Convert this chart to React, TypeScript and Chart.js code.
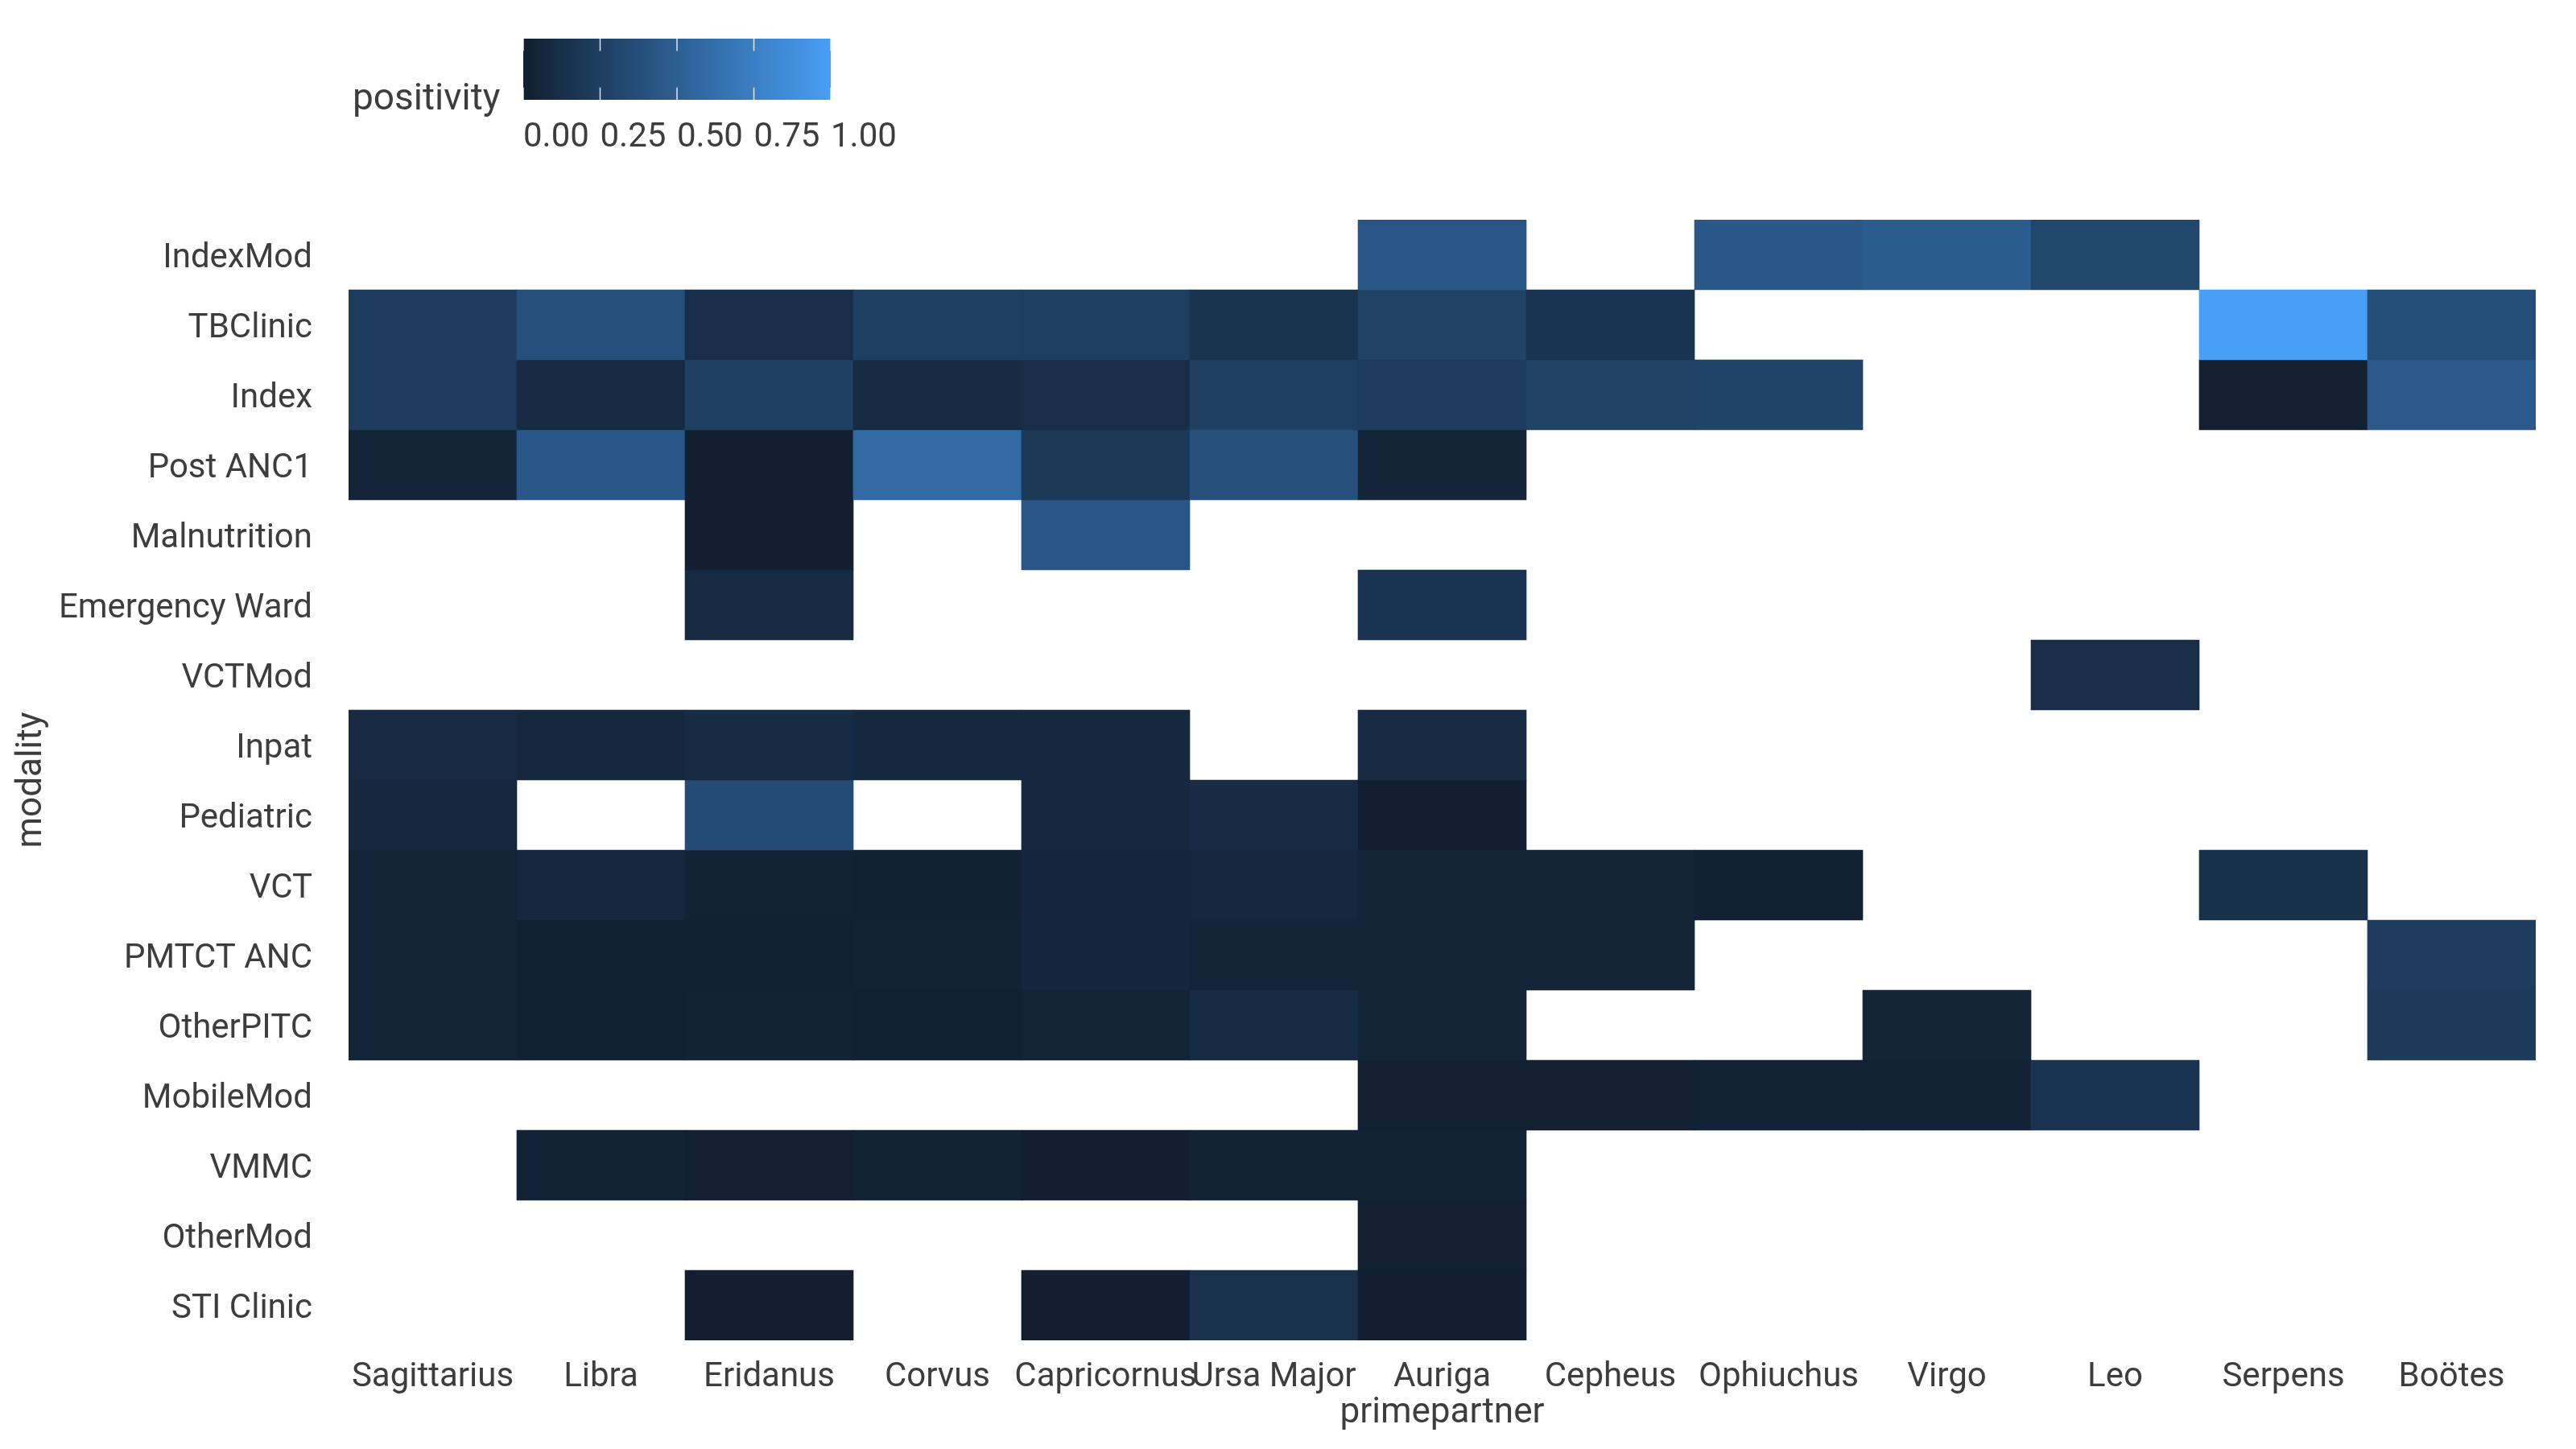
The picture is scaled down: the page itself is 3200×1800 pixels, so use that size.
import React, { useEffect, useRef } from "react";
import { Chart, registerables } from "chart.js";

Chart.register(...registerables);

const partners = [
  "Sagittarius", "Libra", "Eridanus", "Corvus", "Capricornus", "Ursa Major",
  "Auriga", "Cepheus", "Ophiuchus", "Virgo", "Leo", "Serpens", "Boötes",
];
const modalities = [
  "IndexMod", "TBClinic", "Index", "Post ANC1", "Malnutrition", "Emergency Ward",
  "VCTMod", "Inpat", "Pediatric", "VCT", "PMTCT ANC", "OtherPITC", "MobileMod",
  "VMMC", "OtherMod", "STI Clinic",
];
const legendTicks = [0, 0.25, 0.5, 0.75, 1];
const legendTickLabels = ["0.00", "0.25", "0.50", "0.75", "1.00"];

// positivity by modality, in the order of `partners`; null = no data
const _ = null;
const indexMod = [_, _, _, _, _, _, 0.43, _, 0.45, 0.48, 0.31, _, _];
const tbClinic = [0.23, 0.38, 0.12, 0.25, 0.24, 0.15, 0.27, 0.16, _, _, _, 1.0, 0.37];
const index = [0.23, 0.09, 0.26, 0.09, 0.12, 0.25, 0.23, 0.27, 0.29, _, _, 0.01, 0.46];
const postANC1 = [0.04, 0.44, 0.0, 0.58, 0.2, 0.38, 0.05, _, _, _, _, _, _];
const malnutrition = [_, _, 0.0, _, 0.43, _, _, _, _, _, _, _, _];
const emergencyWard = [_, _, 0.09, _, _, _, 0.16, _, _, _, _, _, _];
const vctMod = [_, _, _, _, _, _, _, _, _, _, 0.12, _, _];
const inpat = [0.09, 0.07, 0.11, 0.07, 0.07, _, 0.08, _, _, _, _, _, _];
const pediatric = [0.07, _, 0.34, _, 0.07, 0.1, 0.0, _, _, _, _, _, _];
const vct = [0.04, 0.07, 0.03, 0.02, 0.06, 0.07, 0.05, 0.05, 0.02, _, _, 0.13, _];
const pmtctANC = [0.04, 0.02, 0.02, 0.03, 0.06, 0.04, 0.05, 0.05, _, _, _, _, 0.23];
const otherPITC = [0.04, 0.02, 0.03, 0.02, 0.04, 0.09, 0.05, _, _, 0.05, _, _, 0.22];
const mobileMod = [_, _, _, _, _, _, 0.01, 0.01, 0.03, 0.03, 0.16, _, _];
const vmmc = [_, 0.03, 0.01, 0.03, 0.0, 0.03, 0.03, _, _, _, _, _, _];
const otherMod = [_, _, _, _, _, _, 0.01, _, _, _, _, _, _];
const stiClinic = [_, _, 0.0, _, 0.0, 0.14, 0.0, _, _, _, _, _, _];

const rows = [
  indexMod, tbClinic, index, postANC1, malnutrition, emergencyWard, vctMod,
  inpat, pediatric, vct, pmtctANC, otherPITC, mobileMod, vmmc, otherMod, stiClinic,
];

const LOW = [17, 31, 48];
const HIGH = [72, 159, 245];
const TEXT = "#3d3d3d";
const FONT = "Roboto";

function colorFor(v: number): string {
  const c = LOW.map((l, i) => Math.round(l + (HIGH[i] - l) * v));
  return `rgb(${c[0]},${c[1]},${c[2]})`;
}

const colorbarPlugin = {
  id: "colorbar",
  afterDraw(chart: any) {
    const ctx = chart.ctx as CanvasRenderingContext2D;
    const x0 = 650, x1 = 1032, y0 = 48, y1 = 124;
    ctx.save();
    const grad = ctx.createLinearGradient(x0, 0, x1, 0);
    for (let i = 0; i <= 10; i++) grad.addColorStop(i / 10, colorFor(i / 10));
    ctx.fillStyle = grad;
    ctx.fillRect(x0, y0, x1 - x0, y1 - y0);
    ctx.strokeStyle = "rgba(255,255,255,0.85)";
    ctx.lineWidth = 1.5;
    const h = (y1 - y0) / 5;
    legendTicks.forEach((t) => {
      const x = x0 + t * (x1 - x0);
      ctx.beginPath();
      ctx.moveTo(x, y0);
      ctx.lineTo(x, y0 + h);
      ctx.moveTo(x, y1 - h);
      ctx.lineTo(x, y1);
      ctx.stroke();
    });
    ctx.fillStyle = TEXT;
    ctx.textAlign = "left";
    ctx.textBaseline = "alphabetic";
    ctx.font = `42px ${FONT}`;
    legendTickLabels.forEach((l, i) => {
      ctx.fillText(l, x0 + legendTicks[i] * (x1 - x0), 182);
    });
    ctx.font = `46px ${FONT}`;
    ctx.fillText("positivity", 438, 136);
    ctx.restore();
  },
};

export default function App() {
  const ref = useRef<HTMLCanvasElement | null>(null);

  useEffect(() => {
    if (!ref.current) return;
    Chart.defaults.font.family = FONT;
    const datasets = rows.map((vals, r) => ({
      label: modalities[r],
      data: vals.map((v) => (v == null ? null : [r, r + 1])),
      backgroundColor: vals.map((v) => (v == null ? "rgba(0,0,0,0)" : colorFor(v))),
      borderWidth: 0,
      borderSkipped: false,
      grouped: false,
      categoryPercentage: 1,
      barPercentage: 1,
    }));
    const chart = new Chart(ref.current, {
      type: "bar",
      data: { labels: partners, datasets: datasets as any },
      options: {
        responsive: false,
        animation: false,
        layout: { padding: { top: 273, right: 50, bottom: 0, left: 0 } },
        plugins: { legend: { display: false }, tooltip: { enabled: false } },
        scales: {
          x: {
            type: "category",
            offset: true,
            grid: { display: false, drawTicks: false },
            border: { display: false },
            ticks: {
              color: TEXT,
              font: { family: FONT, size: 42 },
              padding: 21,
              maxRotation: 0,
              autoSkip: false,
            },
            title: {
              display: true,
              text: "primepartner",
              color: TEXT,
              font: { family: FONT, size: 44 },
              padding: { top: 0, bottom: 18 },
            },
            afterFit: (s: any) => {
              s.height = 135;
            },
          },
          y: {
            type: "linear",
            min: 0,
            max: 16,
            reverse: true,
            grid: { display: false, drawTicks: false },
            border: { display: false },
            afterBuildTicks: (s: any) => {
              s.ticks = modalities.map((_m, i) => ({ value: i + 0.5 }));
            },
            ticks: {
              color: TEXT,
              font: { family: FONT, size: 42 },
              padding: 45,
              labelOffset: 5,
              autoSkip: false,
              callback: (v: any) => modalities[Math.floor(Number(v))],
            },
            title: {
              display: true,
              text: "modality",
              color: TEXT,
              font: { family: FONT, size: 44 },
              padding: { top: 14, bottom: 0 },
            },
            afterFit: (s: any) => {
              s.width = 433;
            },
          },
        },
      },
      plugins: [colorbarPlugin],
    });
    return () => chart.destroy();
  }, []);

  return (
    <div style={{ position: "absolute", left: 0, top: 0, width: 3200, height: 1800, background: "#fff" }}>
      <canvas ref={ref} width={3200} height={1800} />
    </div>
  );
}
